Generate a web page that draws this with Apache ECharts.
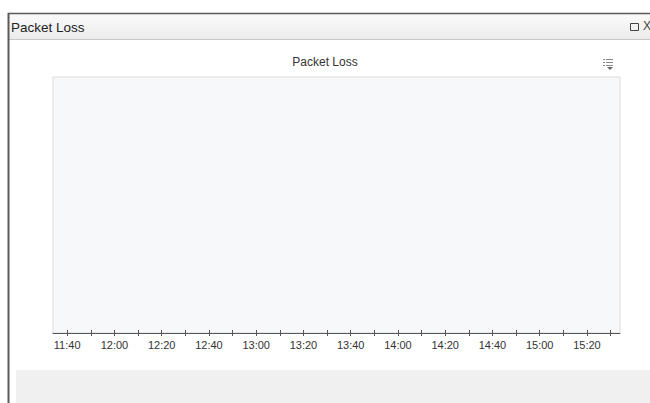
<!DOCTYPE html>
<html>
<head>
<meta charset="utf-8">
<script src="https://cdn.jsdelivr.net/npm/echarts@6/dist/echarts.min.js"></script>
<style>
html,body{margin:0;padding:0;background:#fff;}
#chart{width:650px;height:403px;}
</style>
</head>
<body>
<div id="chart"></div>
<script>
// ---- data ----
const panelTitle = 'Packet Loss';
const chartTitle = 'Packet Loss';
const axisStart = '11:34';
const axisEnd = '15:34';
const tickLabels = ['11:40','12:00','12:20','12:40','13:00','13:20','13:40','14:00','14:20','14:40','15:00','15:20'];
const tickStepMinutes = 10;
const seriesName = 'Packet Loss';
const seriesTimes = [];   // no data shown in the reference
const seriesValues = [];

function toMin(s){ const p = s.split(':'); return (+p[0])*60 + (+p[1]); }
const xMin = toMin(axisStart), xMax = toMin(axisEnd);
const labelValues = tickLabels.map(toMin);
const tickValues = [];
for (let v = labelValues[0]; v <= xMax; v += tickStepMinutes) tickValues.push(v);

const chart = echarts.init(document.getElementById('chart'), null, {renderer:'svg'});
const FONT = 'Liberation Sans, Arial, sans-serif';
const axisColor = '#555';

chart.setOption({
  animation:false,
  backgroundColor:'#ffffff',
  title:{
    text: chartTitle, left:'center', top:51,
    textStyle:{fontSize:12, fontWeight:'normal', color:'#333', fontFamily:FONT}
  },
  grid:{left:53, right:30, top:77, bottom:70, show:true,
        backgroundColor:'#f7f8fa', borderColor:'#dcdcdc', borderWidth:1},
  xAxis:[{
    type:'value', position:'bottom', min:xMin, max:xMax,
    axisLine:{show:true, lineStyle:{color:axisColor, width:1}},
    axisTick:{show:true, inside:false, length:3, customValues:tickValues, lineStyle:{color:axisColor}},
    axisLabel:{show:true, customValues:labelValues, margin:6, color:'#333', fontSize:11, fontFamily:FONT,
      formatter:function(v){ const i = labelValues.indexOf(v); return i>=0 ? tickLabels[i] : ''; }},
    splitLine:{show:false}
  },{
    type:'value', position:'bottom', min:xMin, max:xMax,
    axisLine:{show:false},
    axisTick:{show:true, inside:true, length:3, customValues:tickValues, lineStyle:{color:axisColor}},
    axisLabel:{show:false},
    splitLine:{show:false}
  }],
  yAxis:{type:'value', min:0, max:100, show:false},
  series:[{
    name:seriesName, type:'line',
    data: seriesTimes.map((t,i)=>[toMin(t), seriesValues[i]])
  }],
  graphic:[
    // bottom gray strip
    {type:'rect', shape:{x:16, y:370, width:634, height:33}, style:{fill:'#f0f0f0'}, silent:true},
    // panel header
    {type:'rect', shape:{x:9, y:14, width:641, height:25},
      style:{fill:new echarts.graphic.LinearGradient(0,0,0,1,[{offset:0,color:'#fbfbfb'},{offset:1,color:'#ececec'}])}, silent:true},
    {type:'line', shape:{x1:9, y1:39.5, x2:650, y2:39.5}, style:{stroke:'#c8c8c8', lineWidth:1}, silent:true},
    // panel border
    {type:'line', shape:{x1:8, y1:13.5, x2:650, y2:13.5}, style:{stroke:'#5a5a5a', lineWidth:1.5}, silent:true},
    {type:'line', shape:{x1:8.5, y1:13, x2:8.5, y2:403}, style:{stroke:'#5a5a5a', lineWidth:2}, silent:true},
    {type:'text', left:11, top:20, style:{text:panelTitle, fill:'#222', font:'13.5px '+FONT}, silent:true},
    // header buttons
    {type:'rect', shape:{x:630.5, y:23.5, width:8, height:7}, style:{fill:'none', stroke:'#444', lineWidth:1}, silent:true},
    {type:'text', left:643, top:20, style:{text:'X', fill:'#444', font:'12px '+FONT}, silent:true},
    // chart menu icon
    {type:'group', left:603, top:59, silent:true, children:[
      {type:'rect', shape:{x:0, y:0, width:2, height:1}, style:{fill:'#888'}},
      {type:'rect', shape:{x:3, y:0, width:7, height:1}, style:{fill:'#888'}},
      {type:'rect', shape:{x:0, y:3, width:2, height:1}, style:{fill:'#888'}},
      {type:'rect', shape:{x:3, y:3, width:7, height:1}, style:{fill:'#888'}},
      {type:'rect', shape:{x:0, y:6, width:2, height:1}, style:{fill:'#888'}},
      {type:'rect', shape:{x:3, y:6, width:7, height:1}, style:{fill:'#888'}},
      {type:'polygon', shape:{points:[[4,8],[10,8],[7,11]]}, style:{fill:'#666'}}
    ]}
  ]
});
</script>
</body>
</html>
